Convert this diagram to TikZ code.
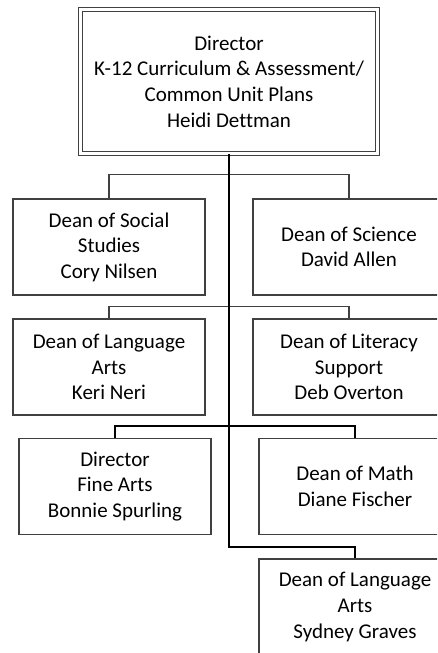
\documentclass[tikz,border=0pt]{standalone}
\usepackage{fontspec}
\setmainfont{Carlito}[Ligatures=NoCommon]
\definecolor{boxgray}{RGB}{64,64,64}
\tikzset{
  unitbox/.style={draw=boxgray, line width=1.5pt, minimum width=192pt, minimum height=96pt,
    align=center, inner sep=0pt, font=\fontsize{21}{25.6}\selectfont},
  headbox/.style={unitbox, double, double distance=3pt, line width=1.3pt,
    minimum width=297pt, minimum height=144pt},
  thinlink/.style={draw=boxgray, line width=1.5pt},
  thicklink/.style={draw=black, line width=2pt}
}
\begin{document}
\begin{tikzpicture}[x=1pt, y=-1pt]
\clip (0,0) rectangle (437,653);
\fill[white] (0,0) rectangle (437,653);
%
\path (229,81.5) node[headbox] (director) {Director\\K-12 Curriculum \& Assessment/\\Common Unit Plans\\Heidi Dettman};
%
\path (109,247)   node[unitbox] (social)    {Dean of Social\\Studies\\Cory Nilsen};
\path (349,247)   node[unitbox] (science)   {Dean of Science\\David Allen};
\path (109,367)   node[unitbox] (langarts)  {Dean of Language\\Arts\\Keri Neri};
\path (349,367)   node[unitbox] (literacy)  {Dean of Literacy\\Support\\Deb Overton};
\path (115,486.5) node[unitbox] (finearts)  {Director\\Fine Arts\\Bonnie Spurling};
\path (355,486.5) node[unitbox] (math)      {Dean of Math\\Diane Fischer};
\path (355,607)   node[unitbox] (langarts2) {Dean of Language\\Arts\\Sydney Graves};
%
\draw [thinlink] (social.north) -- ++(0,-24) -| (science.north);
\draw [thinlink] (langarts.north) -- ++(0,-12) -| (literacy.north);
\draw [thicklink] (finearts.north) -- ++(0,-12) -| (math.north);
%
\draw [thicklink] (director.south) -- (director.south |- 0,547) coordinate (elbow)
  -| (langarts2.north);
\end{tikzpicture}
\end{document}
